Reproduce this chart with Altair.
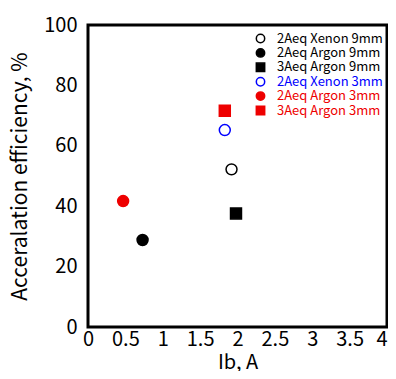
import altair as alt
import pandas as pd

series = ["2Aeq Xenon 9mm", "2Aeq Argon 9mm", "3Aeq Argon 9mm",
          "2Aeq Xenon 3mm", "2Aeq Argon 3mm", "3Aeq Argon 3mm"]
ib = [1.92, 0.73, 1.98, 1.83, 0.47, 1.83]
eff = [52.2, 28.8, 37.6, 65.2, 41.7, 71.6]

x_ticks = [0, 0.5, 1, 1.5, 2, 2.5, 3, 3.5, 4]
y_ticks = [0, 20, 40, 60, 80, 100]

shapes = ["circle", "circle", "square", "circle", "circle", "square"]
strokes = ["#000000", "#000000", "#000000", "#0000ff", "#ee0000", "#ee0000"]
fills = ["#ffffff", "#000000", "#000000", "#ffffff", "#ee0000", "#ee0000"]

df = pd.DataFrame({"series": series, "ib": ib, "eff": eff})

FONT = "Noto Sans CJK JP"

# label color expression built from the series/stroke lists
expr = "'#000000'"
for s, c in zip(series, strokes):
    expr = f"datum.label == '{s}' ? '{c}' : ({expr})"

legend = alt.Legend(
    title=None, orient="none", legendX=166, legendY=7,
    labelFont=FONT, labelFontSize=13, symbolSize=70, symbolStrokeWidth=1.5,
    rowPadding=-0.6, padding=0, labelLimit=300, labelOffset=10,
    labelColor=alt.ExprRef(expr),
)

chart = alt.Chart(df).mark_point(filled=True, size=120, strokeWidth=1.5, opacity=1).encode(
    x=alt.X("ib:Q", title="Ib, A",
            scale=alt.Scale(domain=[0, 4], nice=False, zero=True),
            axis=alt.Axis(values=x_ticks, format="~g",
                          ticks=False, domain=False, grid=False,
                          labelFont=FONT, labelFontSize=20, labelColor="black",
                          labelAlign=alt.ExprRef(f"datum.value == {x_ticks[-1]} ? 'right' : 'center'"),
                          labelPadding=2, labelFlush=False, labelOverlap=False,
                          titleFont=FONT, titleFontSize=20, titleFontWeight="normal",
                          titleColor="black", titlePadding=3)),
    y=alt.Y("eff:Q", title="Acceralation efficiency, %",
            scale=alt.Scale(domain=[0, 100], nice=False),
            axis=alt.Axis(values=y_ticks,
                          ticks=False, domain=False, grid=False,
                          labelFont=FONT, labelFontSize=20, labelColor="black",
                          labelPadding=11, labelFlush=False, labelOverlap=False,
                          titleFont=FONT, titleFontSize=21, titleFontWeight="normal",
                          titleColor="black", titlePadding=13)),
    shape=alt.Shape("series:N", scale=alt.Scale(domain=series, range=shapes), legend=legend),
    fill=alt.Fill("series:N", scale=alt.Scale(domain=series, range=fills), legend=legend),
    stroke=alt.Stroke("series:N", scale=alt.Scale(domain=series, range=strokes), legend=legend),
).properties(
    width=299, height=302,
    background="white",
    autosize=alt.AutoSizeParams(type="none"),
    padding={"left": 80, "top": 17, "right": 1, "bottom": 44},
).configure_view(
    stroke="black", strokeWidth=3
)

chart.save("out.html", embed_options={"renderer": "svg", "actions": False})
